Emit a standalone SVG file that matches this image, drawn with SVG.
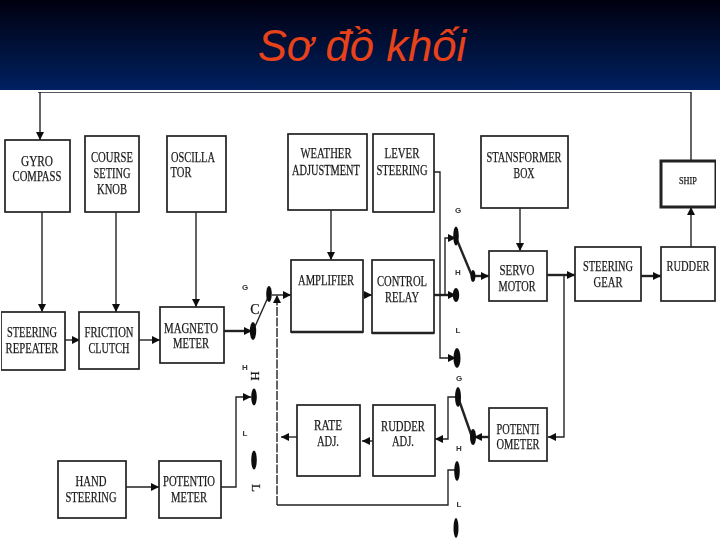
<svg xmlns="http://www.w3.org/2000/svg" width="720" height="540" viewBox="0 0 720 540">
<style>
.b{fill:#fff;stroke:#222;stroke-width:1.7}
.k{fill:#fff;stroke:#222;stroke-width:3}
.t{font-family:"Liberation Serif",serif;font-size:15px;fill:#1a1a1a;stroke:#1a1a1a;stroke-width:.25;text-anchor:middle}
.s{font-family:"Liberation Sans",sans-serif;font-size:8px;font-weight:bold;fill:#333;text-anchor:middle}
.c{fill:none;stroke:#222;stroke-width:1.4}
.h{fill:none;stroke:#222;stroke-width:2.4}
.d{fill:#111}
</style>
<defs>
<linearGradient id="g" x1="0" y1="0" x2="0" y2="1"><stop offset="0" stop-color="#00000f"/><stop offset="1" stop-color="#002060"/></linearGradient>
<filter id="f" x="0" y="0" width="1" height="1"><feGaussianBlur stdDeviation="0.35"/></filter>
<marker id="a" markerUnits="userSpaceOnUse" markerWidth="9" markerHeight="8" refX="8" refY="4" orient="auto"><path d="M0 0L8 4L0 8Z" fill="#111"/></marker>
</defs>
<rect width="720" height="540" fill="#fff"/>
<rect id="header" width="720" height="90" fill="url(#g)"/>
<text x="362" y="61" font-family="'Liberation Sans',sans-serif" font-size="43.7" font-style="italic" fill="#e8421a" text-anchor="middle">Sơ đồ khối</text>
<g filter="url(#f)">
<g id="connectors">
<path class="c" d="M691 161V92H38" />
<path class="c" d="M40 92V140" marker-end="url(#a)"/>
<path class="c" d="M42 212V312" marker-end="url(#a)"/>
<path class="c" d="M116 212V312" marker-end="url(#a)"/>
<path class="c" d="M196 212V307" marker-end="url(#a)"/>
<path class="c" d="M331 210V260" marker-end="url(#a)"/>
<path class="c" d="M520 208V251" marker-end="url(#a)"/>
<path class="c" d="M691 247V207" marker-end="url(#a)"/>
<path class="c" d="M65 340H80" marker-end="url(#a)"/>
<path class="c" d="M139 340H160" marker-end="url(#a)"/>
<path class="h" d="M224 331H252" marker-end="url(#a)"/>
<path class="c" d="M126 487H159" marker-end="url(#a)"/>
<path class="c" d="M221 487H236V397H251" marker-end="url(#a)"/>
<path class="c" d="M253 331L269 295"/>
<path class="c" d="M272 295H291" marker-end="url(#a)"/>
<path class="c" stroke-dasharray="9 1.5" d="M277 505V295" marker-end="url(#a)"/>
<path class="c" d="M277 505H448V470H456"/>
<path class="c" d="M434 172H440V358H456" marker-end="url(#a)"/>
<path class="c" d="M445 295V238H456" marker-end="url(#a)"/>
<path class="h" d="M434 295H456" marker-end="url(#a)"/>
<path class="c" d="M363 295H372" marker-end="url(#a)"/>
<path class="h" d="M457 240L472 276" />
<path class="h" d="M474 276H489" marker-end="url(#a)"/>
<path class="h" d="M547 275H575" marker-end="url(#a)"/>
<path class="h" d="M641 276H661" marker-end="url(#a)"/>
<path class="c" d="M564 276V437H548" marker-end="url(#a)"/>
<path class="h" d="M489 437H474" marker-end="url(#a)"/>
<path class="h" d="M472 437L459 400"/>
<path class="c" d="M456 397H448V439H435" marker-end="url(#a)"/>
<path class="c" d="M373 441H362" marker-end="url(#a)"/>
<path class="c" d="M297 437H281" marker-end="url(#a)"/>
</g>
<g id="contacts">
<ellipse class="d" cx="269" cy="294" rx="2.8" ry="8"/><ellipse class="d" cx="253" cy="331" rx="3.2" ry="9"/>
<ellipse class="d" cx="254" cy="397" rx="2.8" ry="8.5"/><ellipse class="d" cx="254" cy="460" rx="2.8" ry="9.5"/>
<ellipse class="d" cx="456" cy="236" rx="2.8" ry="9.5"/><ellipse class="d" cx="473" cy="276" rx="2.5" ry="6"/>
<ellipse class="d" cx="456" cy="295" rx="3.2" ry="7"/><ellipse class="d" cx="457" cy="358" rx="3.5" ry="10"/>
<ellipse class="d" cx="458" cy="397" rx="3" ry="10"/><ellipse class="d" cx="473" cy="437" rx="3" ry="8"/>
<ellipse class="d" cx="457" cy="471" rx="2.8" ry="10"/><ellipse class="d" cx="456" cy="528" rx="2.5" ry="10"/>
</g>
<g id="switch-labels">
<text class="s" x="245" y="290">G</text><text class="s" x="245" y="370">H</text><text class="s" x="245" y="436">L</text>
<text class="t" x="255" y="314" style="font-size:14px">C</text>
<text class="t" transform="translate(251,376) rotate(90)" style="font-size:13px">H</text>
<text class="t" transform="translate(252,488) rotate(90)" style="font-size:13px">L</text>
<text class="s" x="458" y="213">G</text><text class="s" x="458" y="275">H</text><text class="s" x="458" y="333">L</text>
<text class="s" x="459" y="381">G</text><text class="s" x="459" y="451">H</text><text class="s" x="459" y="507">L</text>
</g>
<g id="gyro"><rect class="b" x="5" y="140" width="65" height="72"/><text class="t" x="37" y="166" textLength="32" lengthAdjust="spacingAndGlyphs">GYRO</text><text class="t" x="37" y="181" textLength="49" lengthAdjust="spacingAndGlyphs">COMPASS</text></g>
<g id="course"><rect class="b" x="85" y="136" width="54" height="76"/><text class="t" x="112" y="162" textLength="42" lengthAdjust="spacingAndGlyphs">COURSE</text><text class="t" x="112" y="178" textLength="37" lengthAdjust="spacingAndGlyphs">SETING</text><text class="t" x="112" y="194" textLength="30" lengthAdjust="spacingAndGlyphs">KNOB</text></g>
<g id="oscillator"><rect class="b" x="167" y="136" width="59" height="76"/><text class="t" x="193" y="162" textLength="44" lengthAdjust="spacingAndGlyphs">OSCILLA</text><text class="t" x="181" y="177" textLength="21" lengthAdjust="spacingAndGlyphs">TOR</text></g>
<g id="weather"><rect class="b" x="288" y="134" width="79" height="76"/><text class="t" x="326" y="158" textLength="51" lengthAdjust="spacingAndGlyphs">WEATHER</text><text class="t" transform="translate(326,175) scale(.69,1)">ADJUSTMENT</text></g>
<g id="lever"><rect class="b" x="373" y="134" width="61" height="78"/><text class="t" x="402" y="158" textLength="35" lengthAdjust="spacingAndGlyphs">LEVER</text><text class="t" x="402" y="175" textLength="51" lengthAdjust="spacingAndGlyphs">STEERING</text></g>
<g id="transformer"><rect class="b" x="481" y="136" width="87" height="72"/><text class="t" x="524" y="162" textLength="75" lengthAdjust="spacingAndGlyphs">STANSFORMER</text><text class="t" x="524" y="178" textLength="21" lengthAdjust="spacingAndGlyphs">BOX</text></g>
<g id="ship"><rect class="k" x="661" y="161" width="55" height="46"/><text class="t" x="688" y="184" style="font-size:10px" textLength="18" lengthAdjust="spacingAndGlyphs">SHIP</text></g>
<g id="repeater"><rect class="b" x="1" y="312" width="64" height="58"/><text class="t" x="32" y="337" textLength="50" lengthAdjust="spacingAndGlyphs">STEERING</text><text class="t" x="32" y="353" textLength="53" lengthAdjust="spacingAndGlyphs">REPEATER</text></g>
<g id="clutch"><rect class="b" x="79" y="312" width="60" height="57"/><text class="t" x="109" y="337" textLength="49" lengthAdjust="spacingAndGlyphs">FRICTION</text><text class="t" x="109" y="353" textLength="41" lengthAdjust="spacingAndGlyphs">CLUTCH</text></g>
<g id="magneto"><rect class="b" x="160" y="307" width="64" height="56"/><text class="t" x="191" y="333" textLength="54" lengthAdjust="spacingAndGlyphs">MAGNETO</text><text class="t" x="191" y="348" textLength="36" lengthAdjust="spacingAndGlyphs">METER</text></g>
<g id="amplifier"><rect class="b" x="291" y="260" width="72" height="72"/><path class="h" d="M291 332H363"/><text class="t" x="326" y="285" textLength="56" lengthAdjust="spacingAndGlyphs">AMPLIFIER</text></g>
<g id="relay"><rect class="b" x="372" y="260" width="62" height="73"/><path class="h" d="M372 333H434"/><text class="t" x="402" y="286" textLength="50" lengthAdjust="spacingAndGlyphs">CONTROL</text><text class="t" x="402" y="302" textLength="34" lengthAdjust="spacingAndGlyphs">RELAY</text></g>
<g id="servo"><rect class="b" x="489" y="251" width="58" height="50"/><text class="t" x="517" y="275" textLength="35" lengthAdjust="spacingAndGlyphs">SERVO</text><text class="t" x="517" y="291" textLength="37" lengthAdjust="spacingAndGlyphs">MOTOR</text></g>
<g id="gear"><rect class="b" x="575" y="247" width="66" height="54"/><text class="t" x="608" y="271" textLength="50" lengthAdjust="spacingAndGlyphs">STEERING</text><text class="t" x="608" y="287" textLength="29" lengthAdjust="spacingAndGlyphs">GEAR</text></g>
<g id="rudder"><rect class="b" x="661" y="247" width="54" height="54"/><text class="t" transform="translate(688,271) scale(.7,1)">RUDDER</text></g>
<g id="rate"><rect class="b" x="297" y="405" width="63" height="71"/><text class="t" x="328" y="430" textLength="28" lengthAdjust="spacingAndGlyphs">RATE</text><text class="t" x="328" y="446" textLength="22" lengthAdjust="spacingAndGlyphs">ADJ.</text></g>
<g id="rudder-adj"><rect class="b" x="373" y="405" width="62" height="71"/><text class="t" x="403" y="431" textLength="44" lengthAdjust="spacingAndGlyphs">RUDDER</text><text class="t" x="403" y="446" textLength="22" lengthAdjust="spacingAndGlyphs">ADJ.</text></g>
<g id="potenti"><rect class="b" x="489" y="408" width="58" height="53"/><text class="t" x="518" y="434" textLength="43" lengthAdjust="spacingAndGlyphs">POTENTI</text><text class="t" x="518" y="449" textLength="43" lengthAdjust="spacingAndGlyphs">OMETER</text></g>
<g id="hand"><rect class="b" x="58" y="461" width="68" height="57"/><text class="t" x="91" y="486" textLength="31" lengthAdjust="spacingAndGlyphs">HAND</text><text class="t" x="91" y="502" textLength="51" lengthAdjust="spacingAndGlyphs">STEERING</text></g>
<g id="potentio"><rect class="b" x="159" y="461" width="62" height="57"/><text class="t" x="189" y="486" textLength="52" lengthAdjust="spacingAndGlyphs">POTENTIO</text><text class="t" x="189" y="502" textLength="36" lengthAdjust="spacingAndGlyphs">METER</text></g>
</g>
</svg>
